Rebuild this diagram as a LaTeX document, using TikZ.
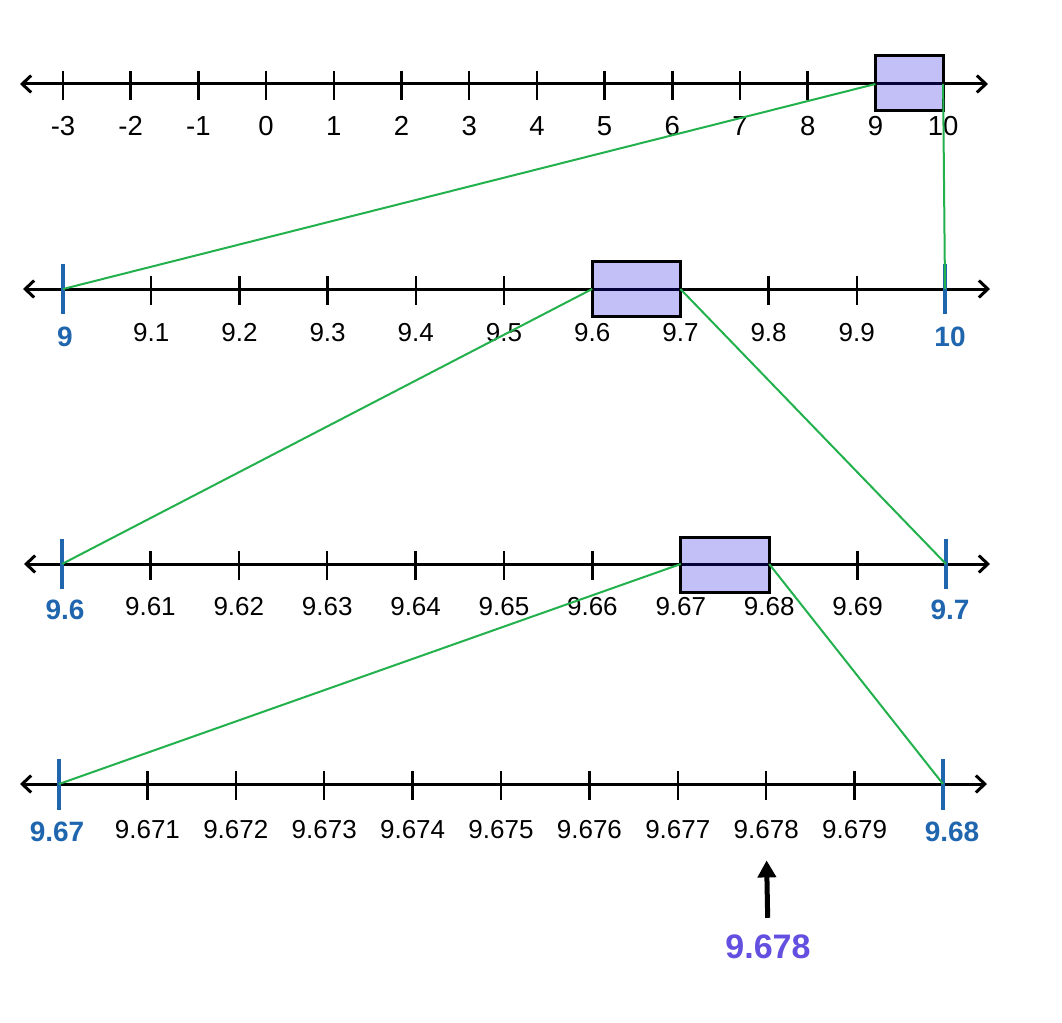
\documentclass[tikz,border=0pt]{standalone}
\usepackage{fontspec}
\setmainfont{Liberation Sans}
\usetikzlibrary{arrows.meta}

\definecolor{endblue}{HTML}{1F66AE}
\definecolor{zoomgreen}{HTML}{22B14C}
\definecolor{answer}{HTML}{634FE0}
\definecolor{boxtint}{HTML}{1000E0}

\begin{document}
\begin{tikzpicture}[x=1pt, y=-1pt,
    axis/.style={line width=3pt, {Straight Barb[length=9pt,width=17pt]}-{Straight Barb[length=9pt,width=17pt]}},
    tick/.style={line width=2.5pt},
    endtick/.style={line width=4pt, draw=endblue},
    lbl/.style={font=\fontsize{26}{26}\selectfont, inner sep=0pt},
    toplbl/.style={font=\fontsize{27.5}{27.5}\selectfont, inner sep=0pt},
    endlbl/.style={font=\fontsize{28}{28}\selectfont\bfseries, text=endblue, inner sep=0pt},
    zoombox/.style={draw, line width=3pt, fill=boxtint, fill opacity=0.25},
    zoomline/.style={draw=zoomgreen, line width=2pt},
    pointer/.style={line width=5pt, -{Triangle[length=17pt,width=18pt]}},
  ]
    \useasboundingbox (0,0) rectangle (1062,1022);

    % -3 ... 10
    \draw[axis] (20,84) -- (988,84);
    \foreach \v [count=\k from 0] in {-3,...,10} {
        \coordinate (a\k) at ({63+67.7*\k},84);
        \draw[tick] ({63+67.7*\k},71) -- ({63+67.7*\k},100);
        \node[toplbl] (la\k) at ({63+67.7*\k},126) {\v};
    }
    \draw[zoombox] (a12 |- 0,56) rectangle (a13 |- 0,111);

    % 9 ... 10
    \draw[axis] (23,289) -- (990,289);
    \coordinate (b0) at (63,289);
    \coordinate (b10) at (945,289);
    \foreach \v [count=\k] in {9.1,9.2,9.3,9.4,9.5,9.6,9.7,9.8,9.9} {
        \coordinate (b\k) at ({63+88.2*\k},289);
        \draw[tick] ({63+88.2*\k},276) -- ({63+88.2*\k},305);
        \node[lbl] (lb\k) at ({63+88.2*\k},333) {\v};
    }
    \draw[endtick] (63,264) -- (63,314);
    \draw[endtick] (945,264) -- (945,314);
    \node[endlbl] (lb0) at (65,337) {9};
    \node[endlbl] (lb10) at (950,337) {10};
    \draw[zoombox] (b6 |- 0,261) rectangle (b7 |- 0,316);

    % 9.6 ... 9.7
    \draw[axis] (24,564) -- (990,564);
    \coordinate (c0) at (62,564);
    \coordinate (c10) at (946,564);
    \foreach \v [count=\k] in {9.61,9.62,9.63,9.64,9.65,9.66,9.67,9.68,9.69} {
        \coordinate (c\k) at ({62+88.4*\k},564);
        \draw[tick] ({62+88.4*\k},551) -- ({62+88.4*\k},580);
        \node[lbl] (lc\k) at ({62+88.4*\k},607) {\v};
    }
    \draw[endtick] (62,539) -- (62,589);
    \draw[endtick] (946,539) -- (946,589);
    \node[endlbl] (lc0) at (65,610) {9.6};
    \node[endlbl] (lc10) at (950,610) {9.7};
    \draw[zoombox] (c7 |- 0,537) rectangle (c8 |- 0,592);

    % 9.67 ... 9.68
    \draw[axis] (20,784) -- (987,784);
    \coordinate (d0) at (59,784);
    \coordinate (d10) at (943,784);
    \foreach \v [count=\k] in {9.671,9.672,9.673,9.674,9.675,9.676,9.677,9.678,9.679} {
        \coordinate (d\k) at ({59+88.4*\k},784);
        \draw[tick] ({59+88.4*\k},771) -- ({59+88.4*\k},800);
        \node[lbl] (ld\k) at ({59+88.4*\k},830) {\v};
    }
    \draw[endtick] (59,759) -- (59,810);
    \draw[endtick] (943,759) -- (943,810);
    \node[endlbl] (ld0) at (57,832) {9.67};
    \node[endlbl] (ld10) at (952,832) {9.68};

    % zoom guides
    \draw[zoomline] (a12) -- (b0);
    \draw[zoomline] (a13) -- (b10);
    \draw[zoomline] (b6) -- (c0);
    \draw[zoomline] (b7) -- (c10);
    \draw[zoomline] (c7) -- (d0);
    \draw[zoomline] (c8) -- (d10);

    % answer
    \node[font=\fontsize{34}{34}\selectfont\bfseries, text=answer, inner sep=0pt] (ans) at (768,947) {9.678};
    \draw[pointer, shorten <=17pt, shorten >=21pt] (ans.north) -- (ld8.south);
\end{tikzpicture}
\end{document}
